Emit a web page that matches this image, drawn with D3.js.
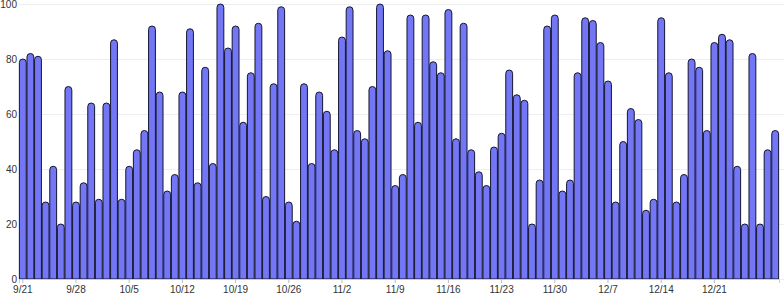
<!DOCTYPE html>
<html>
<head>
<meta charset="utf-8">
<script src="https://cdn.jsdelivr.net/npm/d3@7"></script>
<style>
html,body{margin:0;padding:0;background:#fff;}
svg{display:block;}
</style>
</head>
<body>
<svg id="chart" width="784" height="300"></svg>
<script>
const categories = [
"9/21","9/22","9/23","9/24","9/25","9/26","9/27","9/28","9/29","9/30",
"10/1","10/2","10/3","10/4","10/5","10/6","10/7","10/8","10/9","10/10",
"10/11","10/12","10/13","10/14","10/15","10/16","10/17","10/18","10/19","10/20",
"10/21","10/22","10/23","10/24","10/25","10/26","10/27","10/28","10/29","10/30",
"10/31","11/1","11/2","11/3","11/4","11/5","11/6","11/7","11/8","11/9",
"11/10","11/11","11/12","11/13","11/14","11/15","11/16","11/17","11/18","11/19",
"11/20","11/21","11/22","11/23","11/24","11/25","11/26","11/27","11/28","11/29",
"11/30","12/1","12/2","12/3","12/4","12/5","12/6","12/7","12/8","12/9",
"12/10","12/11","12/12","12/13","12/14","12/15","12/16","12/17","12/18","12/19",
"12/20","12/21","12/22","12/23","12/24","12/25","12/26","12/27","12/28","12/29"
];
const values = [
80,82,81,28,41,20,70,28,35,64,
29,64,87,29,41,47,54,92,68,32,
38,68,91,35,77,42,100,84,92,57,
75,93,30,71,99,28,21,71,42,68,
61,47,88,99,54,51,70,100,83,34,
38,96,57,96,79,75,98,51,93,47,
39,34,48,53,76,67,65,20,36,92,
96,32,36,75,95,94,86,72,28,50,
62,58,25,29,95,75,28,38,80,77,
54,86,89,87,41,20,82,20,47,54
];
const xTickLabels = ["9/21","9/28","10/5","10/12","10/19","10/26","11/2","11/9","11/16","11/23","11/30","12/7","12/14","12/21"];
const yTickValues = [0,20,40,60,80,100];

(function () {
const svg = d3.select("#chart");
const mLeft = 19, mRight = 779, mTop = 4, mBottom = 279;

const x = d3.scaleBand().domain(categories).range([mLeft, mRight]).paddingInner(0.1).paddingOuter(0.05);
const y = d3.scaleLinear().domain([0, 100]).range([mBottom, mTop]);

// gridlines
svg.append("g")
  .selectAll("line")
  .data(yTickValues)
  .join("line")
  .attr("x1", mLeft).attr("x2", 784)
  .attr("y1", d => y(d) + 0.5).attr("y2", d => y(d) + 0.5)
  .attr("stroke", "#eeeeee").attr("stroke-width", 1);

// y labels
const yAxis = d3.axisLeft(y).tickValues(yTickValues).tickSize(0).tickPadding(2);
const gy = svg.append("g").attr("transform", `translate(${mLeft},0)`).call(yAxis);
gy.select(".domain").remove();
gy.selectAll("text").attr("font-family", "Liberation Sans, Arial, sans-serif").attr("font-size", 10).attr("fill", "#333");

// bars with rounded tops
const bw = x.bandwidth();
function barPath(d, i) {
  const x0 = x(categories[i]);
  const x1 = x0 + bw;
  const yt = y(d);
  const yb = y(0);
  const r = Math.min(bw / 2, (yb - yt));
  return `M${x0},${yb} L${x0},${yt + r} A${r},${r} 0 0 1 ${x0 + r},${yt} L${x1 - r},${yt} A${r},${r} 0 0 1 ${x1},${yt + r} L${x1},${yb} Z`;
}
svg.append("g")
  .selectAll("path")
  .data(values)
  .join("path")
  .attr("d", (d, i) => barPath(d, i))
  .attr("fill", "#7377f5")
  .attr("stroke", "#15152e")
  .attr("stroke-width", 1);

// x axis
const xAxis = d3.axisBottom(x).tickValues(xTickLabels).tickSize(4).tickPadding(3);
const gx = svg.append("g").attr("transform", `translate(0,${mBottom})`).call(xAxis);
gx.select(".domain").attr("stroke", "#cccccc");
gx.selectAll(".tick line").attr("stroke", "#bbbbbb");
gx.selectAll("text").attr("font-family", "Liberation Sans, Arial, sans-serif").attr("font-size", 10).attr("fill", "#333");
})();
</script>
</body>
</html>
